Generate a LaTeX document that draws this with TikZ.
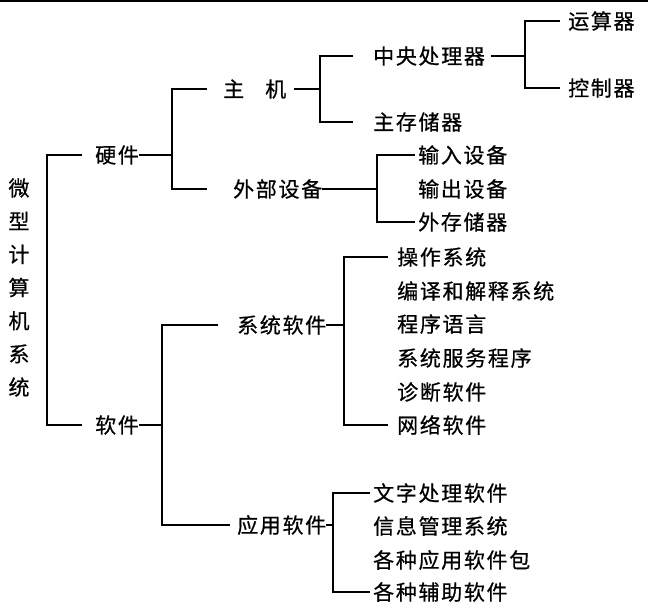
\documentclass[tikz,border=0pt]{standalone}
\usepackage{fontspec}
\newfontfamily\cjk[LetterSpace=8,FakeBold=0.6]{Noto Sans CJK SC}
\begin{document}
\begin{tikzpicture}[x=1pt,y=-1pt,
  every node/.style={inner sep=0pt, anchor=west, font=\cjk\fontsize{21}{25}\selectfont},
  conn/.style={line width=1.4pt}]
\useasboundingbox (0,0) rectangle (648,613);
\coordinate (tl) at (0,1);
\coordinate (tr) at (648,1);
\draw[line width=1.6pt] (tl) -- (tr);
% nodes
\node (root) [anchor=center, align=center, font=\cjk\fontsize{21}{33.2}\selectfont] at (19,287.5) {微\\型\\计\\算\\机\\系\\统};
\node (hw) at (95,155) {硬件};
\node (sw) at (95,425) {软件};
\node (host) at (223,89) {主\hspace{1em}机};
\node (peri) at (233,189) {外部设备};
\node (cpu) at (373,56) {中央处理器};
\node (mem) at (373,122) {主存储器};
\node (alu) at (568,21) {运算器};
\node (ctl) at (568,88) {控制器};
\node (in) at (418,155) {输入设备};
\node (out) at (418,189) {输出设备};
\node (ext) at (418,222) {外存储器};
\node (sys) at (237,325) {系统软件};
\node (app) at (237,525) {应用软件};
\node (s1) at (397,257) {操作系统};
\node (s2) at (397,291) {编译和解释系统};
\node (s3) at (397,324) {程序语言};
\node (s4) at (397,358) {系统服务程序};
\node (s5) at (397,392) {诊断软件};
\node (s6) at (397,425) {网络软件};
\node (a1) at (373,493) {文字处理软件};
\node (a2) at (373,526) {信息管理系统};
\node (a3) at (373,560) {各种应用软件包};
\node (a4) at (373,592) {各种辅助软件};
% junctions
\coordinate (j1) at (172,155);
\coordinate (j2) at (320,89);
\coordinate (j3) at (525,56);
\coordinate (j4) at (377,189);
\coordinate (j5) at (162,425);
\coordinate (j6) at (344,325);
\coordinate (j7) at (333,525);
% connectors
\draw[conn] ([xshift=-13pt]hw.west) -- ++(-35,0) |- ([xshift=-13pt]sw.west);
\draw[conn] (hw.east) -- (j1);
\draw[conn] ([xshift=-16pt]host.west) -| (j1) |- ([xshift=-26pt]peri.west);
\draw[conn] ([xshift=8pt]host.east) -- (j2);
\draw[conn] ([xshift=-20pt]cpu.west) -| (j2) |- ([xshift=-20pt]mem.west);
\draw[conn] ([xshift=6pt]cpu.east) -- (j3);
\draw[conn] ([xshift=-8pt]alu.west) -| (j3) |- ([xshift=-8pt]ctl.west);
\draw[conn] (peri.east) -- (j4);
\draw[conn] ([xshift=-3pt]in.west) -| (j4) |- ([xshift=-3pt]ext.west);
\draw[conn] (sw.east) -- (j5);
\draw[conn] ([xshift=-19pt]sys.west) -| (j5) |- ([xshift=-7pt]app.west);
\draw[conn] (sys.east) -- (j6);
\draw[conn] ([xshift=-9pt]s1.west) -| (j6) |- ([xshift=-9pt]s6.west);
\draw[conn] (app.east) -- (j7);
\draw[conn] ([xshift=-3pt]a1.west) -| (j7) |- ([xshift=-3pt]a4.west);
\end{tikzpicture}
\end{document}
